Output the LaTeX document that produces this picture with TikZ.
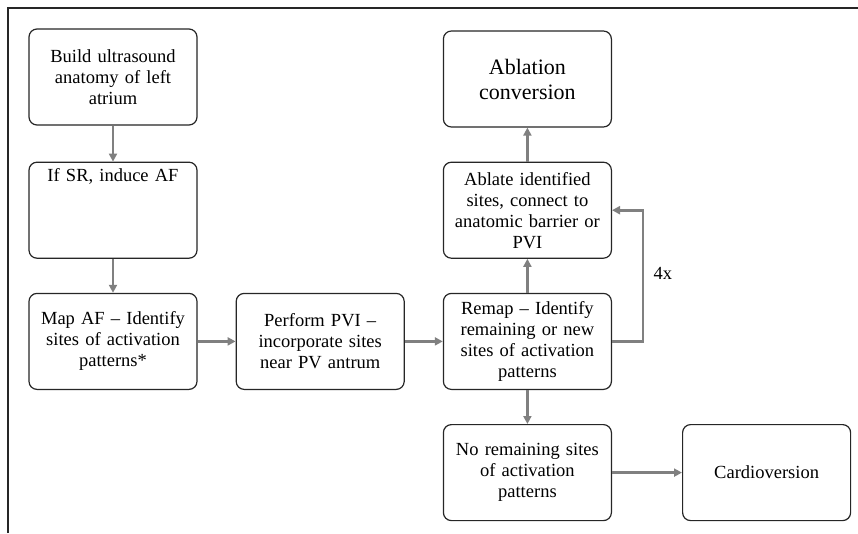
\documentclass[tikz,border=0pt]{standalone}
\usepackage{fontspec}
\setmainfont{Liberation Serif}
\usetikzlibrary{positioning, arrows.meta}

\begin{document}
\begin{tikzpicture}
    [
      x=1pt, y=1pt,
      RECT/.style={rectangle, rounded corners=8pt, draw=black!85, fill=white, line width=1.2pt, minimum width=168pt, minimum height=96pt, text width=160pt, align=center, font=\fontsize{18.5}{21}\selectfont},
      BIGRECT/.style={RECT, font=\fontsize{22}{25}\selectfont},
      ARROW/.style={-{Triangle[length=8pt, width=8pt]}, line width=2.6pt, black!50},
      FRAME/.style={line width=2.5pt, black!85},
    ]

    \useasboundingbox (0,0) rectangle (858,-533);

    \node[RECT] (buildAnatomy) at (113,-77) {Build ultrasound \\ anatomy of left \\ atrium};
    \node[RECT, text height=13pt, text depth=71pt] (induceAF) [below = 36pt of buildAnatomy] {If SR, induce AF};
    \node[RECT] (mapAF) [below = 34pt of induceAF] {Map AF -- Identify \\ sites of activation \\ patterns*};
    \node[RECT] (performPVI) [right = 38pt of mapAF] {Perform PVI -- \\ incorporate sites \\ near PV antrum};
    \node[RECT] (remap) [right = 38pt of performPVI] {Remap -- Identify \\ remaining or new \\ sites of activation \\ patterns};
    \node[RECT] (ablateSites) [above = 34pt of remap] {Ablate identified \\ sites, connect to \\ anatomic barrier or \\ PVI};
    \node[BIGRECT] (ablationConversion) [above = 34pt of ablateSites] {Ablation \\ conversion};
    \node[RECT] (noRemaining) [below = 34pt of remap] {No remaining sites \\ of activation \\ patterns};
    \node[RECT] (cardioversion) [right = 70pt of noRemaining] {Cardioversion};

    \draw[FRAME] (8,-533) -- (8,-8) -- (858,-8);

    \draw[ARROW] (buildAnatomy) to (induceAF);
    \draw[ARROW] (induceAF) to (mapAF);
    \draw[ARROW] (mapAF) to (performPVI);
    \draw[ARROW] (performPVI) to (remap);
    \draw[ARROW] (remap) to (ablateSites);
    \draw[ARROW] (ablateSites) to (ablationConversion);
    \draw[ARROW] (remap) to (noRemaining);
    \draw[ARROW] (noRemaining) to (cardioversion);
    \draw[ARROW] (remap.east) -- ++(31pt,0) |- node[pos=0.26, right=6pt, text=black, font=\fontsize{18.5}{21}\selectfont] {4x} (ablateSites.east);

\end{tikzpicture}
\end{document}
